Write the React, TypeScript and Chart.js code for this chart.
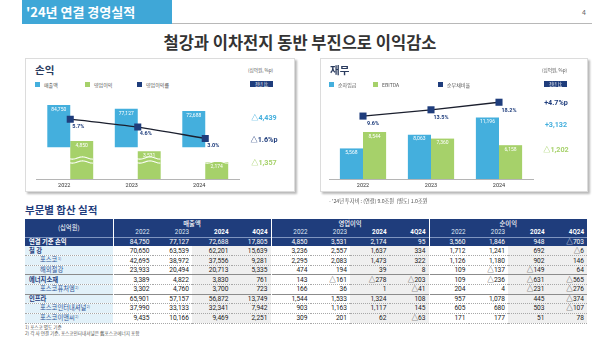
import React, { useEffect, useRef } from "react";
import { Chart, registerables } from "chart.js";

Chart.register(...registerables);

// ---------------- data ----------------
const years = ["2022", "2023", "2024"];
const revenue = [84750, 77127, 72688];
const operatingProfit = [4850, 3531, 2174];
const operatingMargin = [5.7, 4.6, 3.0];
const netDebt = [5568, 8063, 11196];
const ebitda = [8544, 7360, 6158];
const netDebtRatio = [9.6, 13.5, 18.2];

const pnlLegend = ["매출액", "영업이익", "영업이익률"];
const finLegend = ["순차입금", "EBITDA", "순부채비율"];
const pnlDeltas = ["△4,439", "△1.6%p", "△1,357"];
const finDeltas = ["+4.7%p", "+3,132", "△1,202"];

const tableGroups = ["매출액", "영업이익", "순이익"];
const tablePeriods = ["2022", "2023", "2024", "4Q24"];
const rowLabels = ["연결 기준 손익", "철 강", "포스코", "해외철강", "에너지소재", "포스코퓨처엠", "인프라", "포스코인터내셔널", "포스코이앤씨"];
const rowNotes = ["", "", "1)", "", "", "2)", "", "2)", "2)"];
const rowKinds = ["total", "group", "sub", "sub", "group", "sub", "group", "sub", "sub"];
const revenueRows = [
  ["84,750", "77,127", "72,688", "17,805"],
  ["70,650", "63,539", "62,201", "15,639"],
  ["42,695", "38,972", "37,556", "9,281"],
  ["23,933", "20,494", "20,713", "5,335"],
  ["3,389", "4,822", "3,830", "761"],
  ["3,302", "4,760", "3,700", "723"],
  ["65,901", "57,157", "56,872", "13,749"],
  ["37,990", "33,133", "32,341", "7,942"],
  ["9,435", "10,166", "9,469", "2,251"],
];
const opProfitRows = [
  ["4,850", "3,531", "2,174", "95"],
  ["3,236", "2,557", "1,637", "334"],
  ["2,295", "2,083", "1,473", "322"],
  ["474", "194", "39", "8"],
  ["143", "△161", "△278", "△203"],
  ["166", "36", "1", "△41"],
  ["1,544", "1,533", "1,324", "108"],
  ["903", "1,163", "1,117", "145"],
  ["309", "201", "62", "△63"],
];
const netIncomeRows = [
  ["3,560", "1,846", "948", "△703"],
  ["1,712", "1,241", "692", "△6"],
  ["1,126", "1,180", "902", "146"],
  ["109", "△137", "△149", "64"],
  ["109", "△236", "△631", "△565"],
  ["204", "4", "△231", "△276"],
  ["957", "1,078", "445", "△374"],
  ["605", "680", "503", "△107"],
  ["171", "177", "51", "78"],
];
const footnotes = ["1) 포스코 별도 기준", "2) 각 사 연결 기준, 포스코인터내셔널은 舊포스코에너지 포함"];

// ---------------- styles ----------------
const KR = '"Noto Sans CJK KR", "Noto Sans", sans-serif';
const NUM = '"Liberation Sans Narrow", "Roboto", "Noto Sans CJK KR", sans-serif';
const BLUE = "#44afdd";
const GREEN = "#a6d16a";
const NAVY = "#1f3d7c";
const LINE = "#1b1f2e";

const fmt = (v: number) => v.toLocaleString("en-US");

function makeLabelPlugin(ptOffX: number, ptOffY: number, waves: boolean) {
  return {
    id: "valueLabels",
    afterDatasetsDraw(chart: any) {
      const ctx = chart.ctx;
      const area = chart.chartArea;
      ctx.save();
      if (waves) {
        const m0 = chart.getDatasetMeta(0);
        const m1 = chart.getDatasetMeta(1);
        m0.data.forEach((el: any, j: number) => {
          const g = m1.data[j] as any;
          const x0 = el.x - el.width / 2;
          const x1 = g.x + g.width / 2;
          [area.bottom - 21, area.bottom - 17].forEach((yb) => {
            ctx.beginPath();
            for (let x = x0; x <= x1; x += 0.5) {
              const y = yb + 1.1 * Math.sin((x - x0) / 3.2);
              if (x === x0) ctx.moveTo(x, y);
              else ctx.lineTo(x, y);
            }
            ctx.strokeStyle = "rgba(255,255,255,0.95)";
            ctx.lineWidth = 1.1;
            ctx.stroke();
          });
        });
      }
      chart.data.datasets.forEach((ds: any, i: number) => {
        const meta = chart.getDatasetMeta(i);
        meta.data.forEach((el: any, j: number) => {
          const v = ds.data[j] as number;
          if (ds.type === "line") {
            ctx.font = `bold 5.5px ${NUM}`;
            ctx.fillStyle = NAVY;
            ctx.textAlign = "center";
            ctx.textBaseline = "middle";
            ctx.fillText(v.toFixed(1) + "%", el.x + ptOffX, el.y + ptOffY);
          } else {
            ctx.font = `5px ${NUM}`;
            ctx.fillStyle = "#ffffff";
            ctx.textAlign = "center";
            ctx.textBaseline = "middle";
            ctx.fillText(fmt(v), el.x, el.y + 4.5);
          }
        });
      });
      ctx.restore();
    },
  };
}

type ComboProps = {
  left: number;
  top: number;
  w: number;
  h: number;
  padLeft: number;
  padRight: number;
  labelOffset: number;
  blue: number[];
  green: number[];
  line: number[];
  blueNames: string[];
  twoAxes: boolean;
  tension: number;
  waves: boolean;
  ptOff: [number, number];
  lineRange: [number, number];
};

function ComboChart(p: ComboProps) {
  const ref = useRef<HTMLCanvasElement>(null);
  useEffect(() => {
    if (!ref.current) return;
    const scales: any = {
      x: {
        grid: { display: false, drawTicks: false },
        border: { display: true, color: "#b5b5b5", width: 1 },
        ticks: { font: { size: 5.5, family: NUM }, color: "#333", padding: 3, labelOffset: p.labelOffset },
        afterFit: (s: any) => {
          s.height = 13;
        },
      },
      yL: { display: false, min: p.lineRange[0], max: p.lineRange[1] },
    };
    if (p.twoAxes) {
      scales.yB = { display: false, min: -64000, max: 105000 };
      scales.yG = { display: false, min: 0, max: 10700 };
    } else {
      scales.yB = { display: false, min: 0, max: 15300 };
      scales.yG = { display: false, min: 0, max: 15300 };
    }
    const chart = new Chart(ref.current, {
      type: "bar",
      data: {
        labels: years,
        datasets: [
          {
            type: "bar",
            label: p.blueNames[0],
            data: p.blue,
            backgroundColor: BLUE,
            yAxisID: "yB",
            stack: "a",
            categoryPercentage: 0.68,
            barPercentage: 1,
            order: 2,
          } as any,
          {
            type: "bar",
            label: p.blueNames[1],
            data: p.green,
            backgroundColor: GREEN,
            yAxisID: "yG",
            stack: "b",
            categoryPercentage: 0.68,
            barPercentage: 1,
            order: 2,
          } as any,
          {
            type: "line",
            label: p.blueNames[2],
            data: p.line,
            borderColor: LINE,
            borderWidth: 1.3,
            tension: p.tension,
            pointStyle: "rect",
            pointRadius: 5,
            pointBackgroundColor: NAVY,
            pointBorderColor: NAVY,
            pointBorderWidth: 0,
            yAxisID: "yL",
            order: 0,
          } as any,
        ],
      },
      options: {
        animation: false,
        responsive: false,
        devicePixelRatio: 1,
        layout: { padding: { left: p.padLeft, right: p.padRight, top: 37, bottom: 0 } },
        plugins: { legend: { display: false }, tooltip: { enabled: false } },
        scales,
      },
      plugins: [makeLabelPlugin(p.ptOff[0], p.ptOff[1], p.waves)],
    });
    return () => chart.destroy();
  }, []);
  return (
    <canvas
      ref={ref}
      width={p.w}
      height={p.h}
      style={{ position: "absolute", left: p.left, top: p.top, width: p.w, height: p.h }}
    />
  );
}

const abs = (s: React.CSSProperties): React.CSSProperties => ({ position: "absolute", whiteSpace: "nowrap", ...s });

function Legend({ items, xs, y }: { items: string[]; xs: number[]; y: number }) {
  const colors = [BLUE, GREEN, NAVY];
  return (
    <>
      {items.map((t, i) => (
        <React.Fragment key={t}>
          <div style={abs({ left: xs[i], top: y, width: 5, height: 5, background: colors[i] })} />
          <div style={abs({ left: xs[i] + 9, top: y - 1.5, fontSize: 5, lineHeight: "8px", color: "#555", fontFamily: KR })}>{t}</div>
        </React.Fragment>
      ))}
    </>
  );
}

function Deltas({ items, x, ys, colors }: { items: string[]; x: number; ys: number[]; colors: string[] }) {
  return (
    <>
      {items.map((t, i) => (
        <div
          key={t}
          style={abs({
            left: x,
            top: ys[i],
            transform: "translate(-50%, -50%)",
            fontSize: 7.2,
            fontWeight: 700,
            color: colors[i],
            fontFamily: NUM,
          })}
        >
          {t}
        </div>
      ))}
    </>
  );
}

function Panel({ left, top, w, h, title, unitX }: { left: number; top: number; w: number; h: number; title: string; unitX: number }) {
  return (
    <>
      <div
        style={abs({
          left,
          top,
          width: w,
          height: h,
          background: "#fff",
          border: "1px solid #dcdcdc",
          boxShadow: "1.5px 1.5px 2px rgba(0,0,0,0.28)",
          boxSizing: "border-box",
        })}
      />
      <div style={abs({ left: left + 10, top: top + 5, fontSize: 10.5, fontWeight: 700, color: "#2a3b5e", fontFamily: KR, lineHeight: "14px" })}>{title}</div>
      <div style={abs({ left: unitX, top: top + 9, fontSize: 4.6, color: "#555", fontFamily: KR, lineHeight: "6px" })}>(십억원, %p)</div>
      <div
        style={abs({
          left: unitX + 2,
          top: top + 22.5,
          width: 23,
          height: 6,
          background: NAVY,
          color: "#fff",
          fontSize: 4.3,
          lineHeight: "6px",
          textAlign: "center",
          fontFamily: KR,
        })}
      >
        전년 比
      </div>
    </>
  );
}

function DataTable() {
  const th: React.CSSProperties = { background: NAVY, color: "#fff", padding: 0, fontFamily: KR, fontSize: 6.3, fontWeight: 700, lineHeight: "8px" };
  const groupsData = [revenueRows, opProfitRows, netIncomeRows];
  return (
    <table
      style={{
        position: "absolute",
        left: 25,
        top: 219,
        width: 562,
        borderCollapse: "collapse",
        tableLayout: "fixed",
        fontFamily: NUM,
      }}
    >
      <colgroup>
        <col style={{ width: 88 }} />
        {Array.from({ length: 12 }).map((_, i) => (
          <col key={i} style={{ width: 39.5 }} />
        ))}
      </colgroup>
      <thead>
        <tr style={{ height: 9 }}>
          <th rowSpan={2} style={{ ...th, textAlign: "center", fontWeight: 400 }}>(십억원)</th>
          {tableGroups.map((g) => (
            <th key={g} colSpan={4} style={{ ...th, textAlign: "center", fontWeight: 500, borderLeft: "1.5px solid #fff" }}>
              {g}
            </th>
          ))}
        </tr>
        <tr style={{ height: 9 }}>
          {tableGroups.map((g, gi) =>
            tablePeriods.map((pp, pi) => (
              <th
                key={g + pp}
                style={{
                  ...th,
                  fontFamily: NUM,
                  textAlign: "right",
                  paddingRight: 3,
                  fontWeight: pi >= 2 ? 700 : 400,
                  color: pi >= 2 ? "#fff" : "#dfe6f3",
                  borderLeft: pi === 0 ? "1.5px solid #fff" : undefined,
                }}
              >
                {pp}
              </th>
            ))
          )}
        </tr>
      </thead>
      <tbody>
        {rowLabels.map((lab, ri) => {
          const kind = rowKinds[ri];
          const isTotal = kind === "total";
          const topBorder = kind === "group" && ri > 1 ? "1px solid #8c8c8c" : undefined;
          const bottom = isTotal ? undefined : "0.8px dotted #a8a8a8";
          return (
            <tr key={lab} style={{ height: 9.3 }}>
              <td
                style={{
                  padding: 0,
                  paddingLeft: kind === "sub" ? 15 : 4,
                  background: isTotal ? NAVY : "#e2f1f9",
                  color: isTotal ? "#fff" : kind === "group" ? NAVY : "#2f5597",
                  fontFamily: KR,
                  fontWeight: kind === "sub" ? 400 : 700,
                  fontSize: 6.3,
                  lineHeight: "8px",
                  borderTop: isTotal ? "1px solid #7f95c0" : topBorder,
                  borderBottom: bottom,
                  whiteSpace: "nowrap",
                  overflow: "hidden",
                }}
              >
                {lab}
                {rowNotes[ri] && (
                  <span style={{ fontSize: 3.6, position: "relative", top: -2.2, marginLeft: 0.5 }}>{rowNotes[ri]}</span>
                )}
              </td>
              {groupsData.map((gd, gi) =>
                gd[ri].map((v, pi) => (
                  <td
                    key={gi + "-" + pi}
                    style={{
                      padding: 0,
                      paddingRight: 3,
                      textAlign: "right",
                      fontSize: 6.6,
                      lineHeight: "8px",
                      color: isTotal ? "#fff" : "#222",
                      background: isTotal ? NAVY : pi >= 2 ? "#efefef" : "#fff",
                      borderLeft: pi === 0 ? "1.5px solid #fff" : undefined,
                      borderTop: isTotal ? "1px solid #7f95c0" : topBorder,
                      borderBottom: bottom,
                      whiteSpace: "nowrap",
                    }}
                  >
                    {v}
                  </td>
                ))
              )}
            </tr>
          );
        })}
      </tbody>
    </table>
  );
}

export default function App() {
  return (
    <div style={{ position: "absolute", left: 0, top: 0, width: 600, height: 341, background: "#fff", overflow: "hidden", fontFamily: KR }}>
      {/* header */}
      <div style={abs({ left: 22, top: 0, width: 150, height: 24, background: "#3fa7d7" })} />
      <div style={abs({ left: 26, top: 4, fontSize: 13, fontWeight: 700, color: "#fff", lineHeight: "16px" })}>'24년 연결 경영실적</div>
      <div style={abs({ left: 172, top: 23, width: 420, height: 1, background: "#b8b8b8" })} />
      <div style={abs({ left: 582, top: 7, fontSize: 7, color: "#666", lineHeight: "10px" })}>4</div>
      <div style={abs({ left: 0, top: 32, width: 600, textAlign: "center", fontSize: 16.5, fontWeight: 700, color: "#333", lineHeight: "20px" })}>
        철강과 이차전지 동반 부진으로 이익감소
      </div>

      {/* left panel */}
      <Panel left={25} top={58} w={270} h={134} title="손익" unitX={248} />
      <Legend items={pnlLegend} xs={[35, 85, 137]} y={82} />
      <ComboChart
        left={25}
        top={58}
        w={270}
        h={134}
        padLeft={11.5}
        padRight={56}
        labelOffset={-6}
        blue={revenue}
        green={operatingProfit}
        line={operatingMargin}
        blueNames={pnlLegend}
        twoAxes={true}
        tension={0.3}
        waves={true}
        ptOff={[8, 7]}
        lineRange={[-2.7, 9.1]}
      />
      <Deltas items={pnlDeltas} x={264} ys={[117, 139, 162]} colors={[BLUE, NAVY, GREEN]} />

      {/* right panel */}
      <Panel left={320} top={58} w={268} h={134} title="재무" unitX={542} />
      <Legend items={finLegend} xs={[329, 373, 438]} y={82} />
      <ComboChart
        left={320}
        top={58}
        w={268}
        h={134}
        padLeft={9}
        padRight={55}
        labelOffset={0}
        blue={netDebt}
        green={ebitda}
        line={netDebtRatio}
        blueNames={finLegend}
        twoAxes={false}
        tension={0}
        waves={false}
        ptOff={[10, 8]}
        lineRange={[-29.5, 22.7]}
      />
      <Deltas items={finDeltas} x={556} ys={[102, 124, 149]} colors={[NAVY, BLUE, GREEN]} />
      <div style={abs({ left: 329, top: 197, fontSize: 5.2, color: "#555", lineHeight: "7px" })}>
        - '24년 투자비 : (연결) 9.0조원&nbsp;&nbsp;(별도) 1.0조원
      </div>

      {/* table */}
      <div style={abs({ left: 25, top: 203, fontSize: 10.5, fontWeight: 700, color: NAVY, lineHeight: "14px" })}>부문별 합산 실적</div>
      <DataTable />
      <div style={abs({ left: 25, top: 323.5, fontSize: 4.6, color: "#555", lineHeight: "6px" })}>{footnotes[0]}</div>
      <div style={abs({ left: 25, top: 329.5, fontSize: 4.6, color: "#555", lineHeight: "6px" })}>{footnotes[1]}</div>
    </div>
  );
}
